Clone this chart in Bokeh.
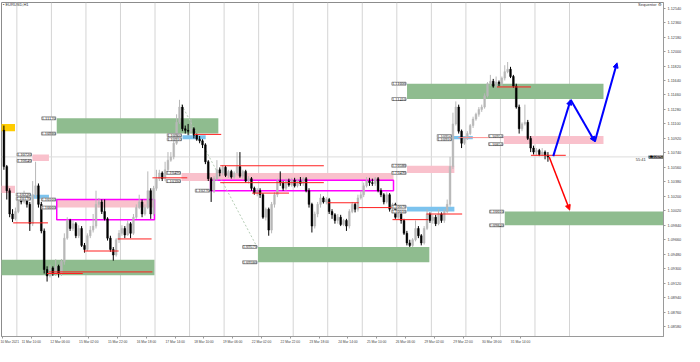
import numpy as np
from bokeh.plotting import figure
from bokeh.models import (FixedTicker, Span, Arrow, NormalHead, LabelSet, Label,
                          ColumnDataSource, Range1d, PrintfTickFormatter)
from bokeh.embed import file_html
from bokeh.resources import INLINE

# ---------------- data ----------------
symbol = "EURUSD,H1"
indicator = "Sequentor \u2699"

first_open = 1.1102
closes = [
    1.1057, 1.1027, 1.0998, 1.0992, 1.1001, 1.1018, 1.1013, 1.1022, 1.1010, 1.0986,
    1.1022, 1.1033, 1.1010, 1.0977, 1.0929, 1.0921, 1.0931, 1.0924, 1.0933, 1.0924,
    1.0939, 1.0968, 1.0990, 1.0980, 1.0986, 1.0971, 1.0980, 1.0959, 1.0954, 1.0971,
    1.0978, 1.0983, 1.1010, 1.1013, 1.1001, 1.0992, 1.0968, 1.0954, 1.0947, 1.0966,
    1.0974, 1.0980, 1.0972, 1.0986, 1.0974, 1.0994, 1.1006, 1.1013, 1.0998, 1.1006,
    1.1027, 1.0998, 1.1030, 1.1042, 1.1049, 1.1042, 1.1053, 1.1065, 1.1069, 1.1086,
    1.1112, 1.1131, 1.1104, 1.1102,
    1.1101, 1.1104, 1.1096, 1.1091, 1.1089, 1.1084, 1.1063,
    1.1042, 1.1027, 1.1042, 1.1053, 1.1049, 1.1056, 1.1046, 1.1051, 1.1044, 1.1049,
    1.1057, 1.1045, 1.1051, 1.1039, 1.1042, 1.1030, 1.1024, 1.1027, 1.1022, 1.0994,
    1.1004, 1.0978, 1.1010, 1.1022, 1.1039, 1.1037, 1.1030, 1.1039, 1.1034, 1.1040,
    1.1033, 1.1039, 1.1036, 1.1042, 1.1027, 1.1010, 1.0983, 1.0998, 1.1010, 1.1018,
    1.1013, 1.1016, 1.1001, 1.0997, 1.0990, 1.0994, 1.0985, 1.0990, 1.0983, 1.1001,
    1.1010, 1.1004, 1.1018, 1.1022, 1.1033, 1.1039, 1.1037,
    1.1036, 1.1042, 1.1027, 1.1022,
    1.1013, 1.1022, 1.1004, 1.1010, 1.0994, 1.0998, 1.0990, 1.0974, 1.0962, 1.0959,
    1.0966, 1.0980, 1.0971, 1.0962, 1.0980, 1.0998, 1.0990, 1.0994, 1.0986, 1.0998,
    1.0990, 1.1001, 1.1010, 1.1057, 1.1110, 1.1131, 1.1101, 1.1086, 1.1092, 1.1098,
    1.1108, 1.1116, 1.1122, 1.1128, 1.1131, 1.1145, 1.1160, 1.1163, 1.1157, 1.1162,
    1.1160, 1.1167, 1.1175, 1.1178, 1.1169, 1.1157, 1.1131, 1.1104, 1.1110, 1.1112,
    1.1092, 1.1080, 1.1075, 1.1077, 1.1072, 1.1075, 1.1071, 1.1069,
]
highs = [
    1.1108, 1.1059, 1.1030, 1.1004, 1.1006, 1.1022, 1.1022, 1.1027, 1.1024, 1.1013,
    1.1039, 1.1063, 1.1036, 1.1013, 1.0980, 1.0933, 1.0935, 1.0933, 1.0942, 1.0935,
    1.0942, 1.0974, 1.0994, 1.0992, 1.0990, 1.0988, 1.0984, 1.0983, 1.0962, 1.0974,
    1.0983, 1.0998, 1.1027, 1.1018, 1.1016, 1.1016, 1.0994, 1.0971, 1.0957, 1.0968,
    1.0978, 1.0984, 1.0983, 1.0990, 1.0988, 1.0998, 1.1010, 1.1022, 1.1016, 1.1010,
    1.1051, 1.1030, 1.1033, 1.1053, 1.1053, 1.1051, 1.1063, 1.1075, 1.1075, 1.1095,
    1.1122, 1.1140, 1.1134, 1.1108,
    1.1110, 1.1116, 1.1106, 1.1098, 1.1095, 1.1091, 1.1086,
    1.1065, 1.1044, 1.1045, 1.1065, 1.1056, 1.1059, 1.1058, 1.1053, 1.1053, 1.1051,
    1.1075, 1.1075, 1.1053, 1.1053, 1.1045, 1.1044, 1.1032, 1.1030, 1.1030, 1.1024,
    1.1006, 1.1006, 1.1013, 1.1025, 1.1042, 1.1051, 1.1039, 1.1042, 1.1042, 1.1043,
    1.1043, 1.1042, 1.1044, 1.1044, 1.1044, 1.1030, 1.1012, 1.1001, 1.1013, 1.1023,
    1.1020, 1.1019, 1.1018, 1.1004, 1.0999, 1.0998, 1.0997, 1.0992, 1.0992, 1.1004,
    1.1013, 1.1012, 1.1022, 1.1027, 1.1037, 1.1044, 1.1043,
    1.1042, 1.1044, 1.1044, 1.1030,
    1.1024, 1.1025, 1.1024, 1.1012, 1.1012, 1.1001, 1.1000, 1.0992, 1.0977, 1.0966,
    1.0968, 1.0990, 1.0983, 1.0973, 1.0983, 1.1004, 1.1000, 1.0997, 1.0997, 1.1004,
    1.1000, 1.1004, 1.1016, 1.1069, 1.1124, 1.1138, 1.1134, 1.1103, 1.1095, 1.1101,
    1.1110, 1.1119, 1.1124, 1.1131, 1.1134, 1.1148, 1.1162, 1.1171, 1.1166, 1.1169,
    1.1164, 1.1169, 1.1183, 1.1187, 1.1181, 1.1171, 1.1160, 1.1134, 1.1112, 1.1134,
    1.1115, 1.1095, 1.1083, 1.1080, 1.1079, 1.1080, 1.1077, 1.1075,
]
lows = [
    1.1053, 1.1016, 1.0994, 1.0988, 1.0990, 1.0999, 1.1010, 1.1011, 1.1006, 1.0977,
    1.0983, 1.1018, 1.1006, 1.0974, 1.0924, 1.0914, 1.0919, 1.0921, 1.0921, 1.0919,
    1.0921, 1.0935, 1.0966, 1.0977, 1.0977, 1.0968, 1.0968, 1.0957, 1.0950, 1.0952,
    1.0968, 1.0975, 1.0980, 1.1006, 1.0998, 1.0990, 1.0965, 1.0951, 1.0940, 1.0945,
    1.0962, 1.0971, 1.0968, 1.0971, 1.0968, 1.0972, 1.0992, 1.1004, 1.0994, 1.0996,
    1.1004, 1.0992, 1.0996, 1.1027, 1.1039, 1.1039, 1.1039, 1.1051, 1.1063, 1.1066,
    1.1084, 1.1110, 1.1101, 1.1098,
    1.1096, 1.1098, 1.1092, 1.1089, 1.1086, 1.1080, 1.1060,
    1.1039, 1.1013, 1.1024, 1.1039, 1.1045, 1.1046, 1.1044, 1.1043, 1.1042, 1.1042,
    1.1046, 1.1043, 1.1042, 1.1037, 1.1036, 1.1027, 1.1022, 1.1020, 1.1018, 1.0992,
    1.0990, 1.0971, 1.0974, 1.1006, 1.1019, 1.1033, 1.1027, 1.1027, 1.1032, 1.1032,
    1.1031, 1.1031, 1.1033, 1.1033, 1.1025, 1.1006, 1.0975, 1.0980, 1.0994, 1.1006,
    1.1011, 1.1010, 1.0998, 1.0992, 1.0986, 1.0986, 1.0983, 1.0983, 1.0977, 1.0980,
    1.0999, 1.1000, 1.1001, 1.1016, 1.1019, 1.1031, 1.1033,
    1.1033, 1.1033, 1.1025, 1.1019,
    1.1010, 1.1011, 1.1001, 1.1001, 1.0992, 1.0992, 1.0986, 1.0972, 1.0959, 1.0957,
    1.0957, 1.0964, 1.0968, 1.0959, 1.0960, 1.0978, 1.0987, 1.0986, 1.0983, 1.0984,
    1.0987, 1.0987, 1.0999, 1.1007, 1.1054, 1.1108, 1.1098, 1.1080, 1.1084, 1.1090,
    1.1096, 1.1105, 1.1114, 1.1119, 1.1125, 1.1129, 1.1143, 1.1157, 1.1155, 1.1155,
    1.1157, 1.1157, 1.1164, 1.1173, 1.1167, 1.1155, 1.1129, 1.1098, 1.1101, 1.1108,
    1.1090, 1.1075, 1.1072, 1.1071, 1.1070, 1.1070, 1.1066, 1.1063,
]

# zones: bar positions (hours) and price edges
zone_kind = ["yellow", "pink", "pink", "blue", "green", "pink", "green", "blue",
             "pink", "green", "pink", "blue", "green", "blue", "pink", "green"]
zone_x0 = [-2, -2, 20.8, 20.2, 37.7, 37.7, -2, 125.1, 124.4, 177.5, 281.1, 281.1, 281.1, 312.7, 348.4, 349.0]
zone_x1 = [8.7, 8.7, 32.3, 32.3, 150.0, 105.6, 105.6, 141.2, 271.7, 296.6, 314.0, 314.0, 417.6, 326.8, 417.6, 470.0]
zone_top = [1.1110, 1.1033, 1.1072, 1.1022, 1.1117, 1.1016, 1.0941, 1.1096, 1.1049, 1.0957, 1.1058, 1.1007, 1.1160, 1.1095, 1.1095, 1.1001]
zone_bot = [1.1101, 1.1024, 1.1064, 1.1017, 1.1098, 1.1006, 1.0922, 1.1091, 1.1039, 1.0938, 1.1049, 1.1001, 1.1141, 1.1091, 1.1085, 1.0984]
zone_labelled = [False, False, True, True, True, True, False, True, True, True, True, True, True, True, True, True]

box_x0 = [37.7, 144.6]
box_x1 = [105.6, 271.7]
box_top = [1.1016, 1.1040]
box_bot = [1.0991, 1.1027]

level_x0 = [7.4, 32.3, 30.9, 56.5, 80.0, 104.2, 133.2, 151.3, 151.3, 173.5, 226.0, 247.5, 271.0, 294.6, 343.6, 367.2]
level_x1 = [31.6, 104.2, 55.8, 80.7, 103.6, 128.4, 152.0, 223.3, 223.3, 199.1, 247.5, 271.7, 295.9, 319.4, 367.2, 391.4]
level_y = [1.0987, 1.0926, 1.0924, 1.0952, 1.0967, 1.1043, 1.1097, 1.1058, 1.1037, 1.1024, 1.1012, 1.1006, 1.0991, 1.0998, 1.1156, 1.1071]
soft_level = (316.7, 348.4, 1.1093)

path_up_x = [382.7, 394.8, 411.6, 427.0]
path_up_y = [1.1070, 1.1140, 1.1088, 1.1186]
path_down_x = [379.9, 394.1]
path_down_y = [1.1069, 1.1003]
trend_x = [124.4, 176.9]
trend_y = [1.1134, 1.0957]

current_price = 1.1069
timer_text = "55:41"

price_ticks = [1.12540, 1.12360, 1.12180, 1.12000, 1.11820, 1.11640, 1.11460, 1.11280,
               1.11100, 1.10920, 1.10740, 1.10560, 1.10380, 1.10200, 1.10020, 1.09840,
               1.09660, 1.09480, 1.09300, 1.09120, 1.08940, 1.08760, 1.08580]
time_ticks = [0, 20, 40, 60, 80, 100, 120, 140, 160, 180, 200, 220, 240, 260, 280, 300, 320, 340, 360]
time_labels = ["10 Mar 2021", "11 Mar 10:00", "12 Mar 06:00", "15 Mar 02:00", "15 Mar 22:00",
               "16 Mar 18:00", "17 Mar 14:00", "18 Mar 10:00", "19 Mar 06:00", "22 Mar 02:00",
               "22 Mar 22:00", "23 Mar 18:00", "24 Mar 14:00", "25 Mar 10:00", "26 Mar 06:00",
               "29 Mar 02:00", "29 Mar 22:00", "30 Mar 18:00", "31 Mar 14:00"]
day_breaks = [10, 34, 58, 82, 106, 130, 154, 178, 202, 226, 250, 274, 298, 322, 346, 370, 394]

# ---------------- figure ----------------
FONT = "Liberation Sans"
p = figure(width=684, height=346, x_range=Range1d(-0.67, 459.3), y_range=Range1d(1.08457, 1.12610),
           output_backend="svg", toolbar_location=None, y_axis_location="right",
           min_border_left=1, min_border_top=2, min_border_right=0, min_border_bottom=0)
p.grid.visible = False
p.outline_line_color = "#8c8c8c"
p.background_fill_color = "white"
p.border_fill_color = "white"

p.yaxis.ticker = FixedTicker(ticks=price_ticks)
p.yaxis.formatter = PrintfTickFormatter(format="%.5f")
p.yaxis.major_label_text_font_size = "3.8px"
p.yaxis.major_label_text_font = FONT
p.yaxis.major_label_text_color = "#444444"
p.yaxis.major_tick_out = 2
p.yaxis.major_tick_in = 0
p.yaxis.minor_tick_line_color = None
p.yaxis.major_tick_line_color = "#9a9a9a"
p.yaxis.axis_line_color = "#9a9a9a"
p.yaxis.major_label_standoff = 2

p.xaxis.ticker = FixedTicker(ticks=time_ticks)
p.xaxis.major_label_overrides = {t: s for t, s in zip(time_ticks, time_labels)}
p.xaxis.major_label_text_font_size = "3.3px"
p.xaxis.major_label_text_font = FONT
p.xaxis.major_label_text_color = "#444444"
p.xaxis.major_label_text_align = "left"
p.xaxis.major_tick_out = 2
p.xaxis.major_tick_in = 0
p.xaxis.minor_tick_line_color = None
p.xaxis.major_tick_line_color = "#9a9a9a"
p.xaxis.axis_line_color = "#9a9a9a"
p.xaxis.major_label_standoff = 1

for d in day_breaks:
    p.add_layout(Span(location=d, dimension="height", line_color="#d4d4d4", line_width=1, level="underlay"))
p.add_layout(Span(location=current_price, dimension="width", line_color="#dcdcdc", line_width=1, level="underlay"))

colors = {"yellow": "#ffcc00", "pink": "#f9c1cc", "green": "#8fbc8f", "blue": "#7cc3ee"}
zsrc = ColumnDataSource(dict(left=zone_x0, right=zone_x1, top=zone_top, bottom=zone_bot,
                             color=[colors[k] for k in zone_kind]))
p.quad(left="left", right="right", top="top", bottom="bottom", fill_color="color",
       line_color=None, source=zsrc)

p.quad(left=box_x0, right=box_x1, top=box_top, bottom=box_bot, fill_color=None,
       line_color="#ff00ff", line_width=1.5)

p.line(trend_x, trend_y, line_color="#b6cdb6", line_width=1, line_dash="2 2")

# candles
n = len(closes)
opens = [first_open] + closes[:-1]
cx = 2 * np.arange(n) + 1
o = np.array(opens); c = np.array(closes)
bull = c >= o
col = np.where(bull, "#b8b8b8", "#000000")
csrc = ColumnDataSource(dict(x=cx, h=highs, l=lows, top=np.maximum(o, c), bot=np.minimum(o, c), col=col))
p.segment(x0="x", y0="l", x1="x", y1="h", line_color="col", line_width=1, source=csrc)
p.vbar(x="x", width=1.2, top="top", bottom="bot", fill_color="col", line_color="col", line_width=0.5, source=csrc)

# support / resistance levels
p.segment(x0=level_x0, y0=level_y, x1=level_x1, y1=level_y, line_color="#ff2020", line_width=1)
p.segment(x0=[soft_level[0]], y0=[soft_level[2]], x1=[soft_level[1]], y1=[soft_level[2]],
          line_color="#ff8e8e", line_width=1)

# projections
for i in range(len(path_up_x) - 1):
    p.add_layout(Arrow(end=NormalHead(size=5, fill_color="#0000ff", line_color="#0000ff"),
                       x_start=path_up_x[i], y_start=path_up_y[i],
                       x_end=path_up_x[i + 1], y_end=path_up_y[i + 1],
                       line_color="#0000ff", line_width=2))
p.add_layout(Arrow(end=NormalHead(size=5, fill_color="#ff0000", line_color="#ff0000"),
                   x_start=path_down_x[0], y_start=path_down_y[0],
                   x_end=path_down_x[1], y_end=path_down_y[1],
                   line_color="#ff0000", line_width=1.5))

# zone price labels
lx, ly, lt = [], [], []
for k in range(len(zone_kind)):
    if zone_labelled[k]:
        for pr in (zone_top[k], zone_bot[k]):
            lx.append(zone_x0[k] - 0.7); ly.append(pr); lt.append(f"{pr:.5f}")
lx.append(box_x0[1] - 0.7); ly.append(box_bot[1]); lt.append(f"{box_bot[1]:.5f}")
lsrc = ColumnDataSource(dict(x=lx, y=ly, text=lt))
p.add_layout(LabelSet(x="x", y="y", text="text", source=lsrc, text_align="right",
                      text_baseline="middle", text_font_size="4.4px", text_font=FONT,
                      text_color="#222222", background_fill_color="white",
                      border_line_color="#9a9a9a"))

p.add_layout(Label(x=0.3, y=1.1258, text="\u25aa " + symbol, text_font_size="4px",
                   text_font=FONT, text_color="#333333", text_baseline="middle"))
p.add_layout(Label(x=458.0, y=1.1258, text=indicator, text_font_size="4px",
                   text_font=FONT, text_color="#333333", text_baseline="middle", text_align="right"))
p.add_layout(Label(x=447.0, y=current_price - 0.0003, text=timer_text, text_font_size="4px",
                   text_font=FONT, text_color="#333333", text_baseline="middle", text_align="right"))
p.add_layout(Label(x=459.0, y=current_price, text=f"{current_price:.5f}", text_font_size="4px",
                   text_font=FONT, text_color="white", text_baseline="middle", text_align="right",
                   background_fill_color="black"))

open("out.html", "w").write(file_html(p, INLINE))
